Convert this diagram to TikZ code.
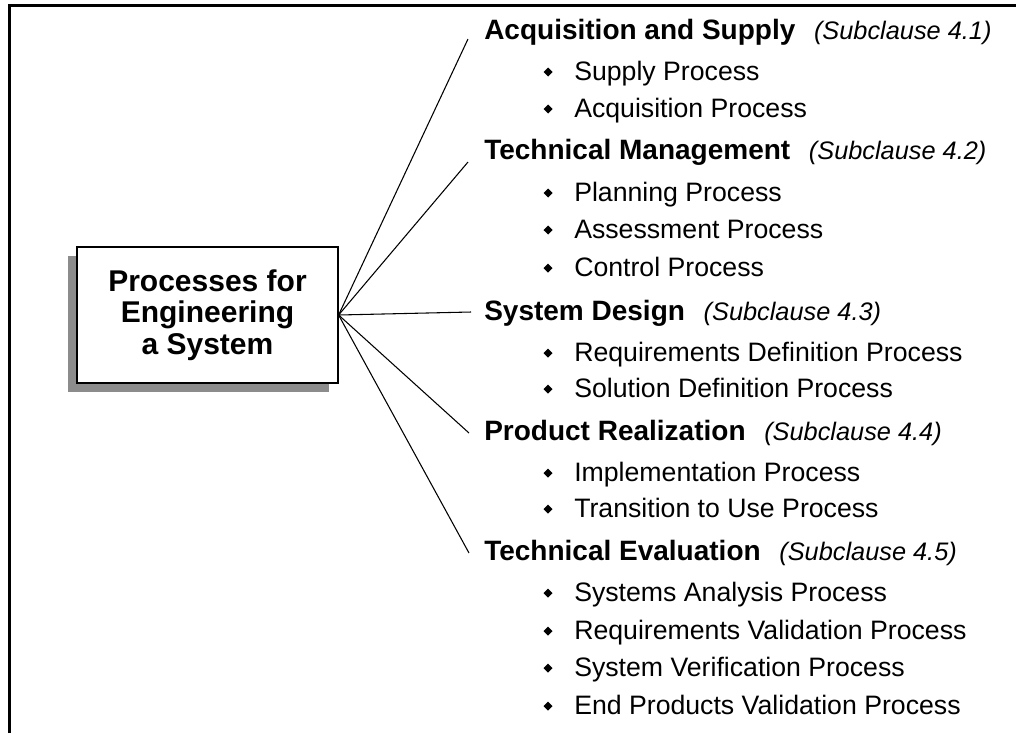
\documentclass[tikz,border=0pt]{standalone}
\usepackage{fontspec}
\setmainfont{Liberation Sans}
\usetikzlibrary{shadows}

\newcommand{\subcl}[1]{\hspace{14pt}{\fontsize{19}{22}\selectfont\mdseries\itshape (Subclause #1)}}

\begin{document}
\begin{tikzpicture}[x=0.75pt, y=-0.75pt]

        % Setup the styles for the boxes and texts
        \tikzset{main box/.style={draw,
                                  line width=0.9pt,
                                  fill=white,
                                  align=center,
                                  minimum width=195.75pt,
                                  minimum height=102pt,
                                  font=\fontsize{22.5}{23.6}\selectfont\bfseries,
                                  drop shadow={shadow xshift=-7pt,
                                               shadow yshift=-7pt,
                                               fill=black!45,
                                               opacity=1}},
                 group head/.style={anchor=base west,
                                    inner sep=0pt,
                                    font=\fontsize{21}{24}\selectfont\bfseries},
                 proc item/.style={anchor=base west,
                                   inner sep=0pt,
                                   font=\fontsize{20}{24}\selectfont},
                 branch/.style={line width=0.8pt}}

        \useasboundingbox (0, 0) rectangle (1016, 733);

        % Draw the frame
        \draw[line width=2.25pt] (9.5, 733) -- (9.5, 5) -- (1016, 5);

        % Draw the main box
        \node[main box] at (207.5, 315) (sys) {Processes for\\Engineering\\a System};

        % Draw the groups
        \node[group head] at (484, 39)  (acq) {Acquisition and Supply\subcl{4.1}};
        \node[group head] at (484, 159) (tm)  {Technical Management\subcl{4.2}};
        \node[group head] at (484, 320) (sd)  {System Design\subcl{4.3}};
        \node[group head] at (484, 440) (pr)  {Product Realization\subcl{4.4}};
        \node[group head] at (484, 560) (te)  {Technical Evaluation\subcl{4.5}};

        % Draw the processes
        \node[proc item] at (574, 80)  (sup)  {Supply Process};
        \node[proc item] at (574, 117) (acp)  {Acquisition Process};
        \node[proc item] at (574, 201) (pla)  {Planning Process};
        \node[proc item] at (574, 238) (ass)  {Assessment Process};
        \node[proc item] at (574, 276) (con)  {Control Process};
        \node[proc item] at (574, 361) (rdp)  {Requirements Definition Process};
        \node[proc item] at (574, 397) (sdp)  {Solution Definition Process};
        \node[proc item] at (574, 481) (imp)  {Implementation Process};
        \node[proc item] at (574, 517) (tup)  {Transition to Use Process};
        \node[proc item] at (574, 601) (sap)  {Systems Analysis Process};
        \node[proc item] at (574, 639) (rvp)  {Requirements Validation Process};
        \node[proc item] at (574, 676) (svp)  {System Verification Process};
        \node[proc item] at (574, 714) (epv)  {End Products Validation Process};

        % Draw the bullets
        \foreach \y in {72, 109, 193, 230, 268, 353, 389, 473, 509, 593, 631, 668, 706}
            \fill (543.5, \y) -- (548, \y-4.5) -- (552.5, \y) -- (548, \y+4.5) -- cycle;

        % Connect the box with the groups
        \coordinate (e1) at (468, 39);
        \coordinate (e2) at (468, 162);
        \coordinate (e3) at (471, 312);
        \coordinate (e4) at (469, 433);
        \coordinate (e5) at (469, 553);
        \foreach \e in {e1, e2, e3, e4, e5}
            \draw[branch] (sys.east) -- (\e);
    \end{tikzpicture}
\end{document}
